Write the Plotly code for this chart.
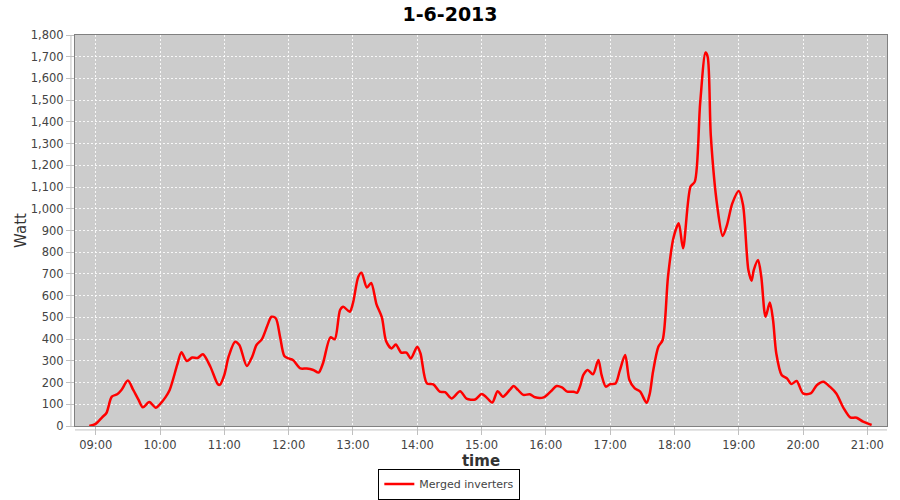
"""
1-6-2013 omvormer vermogen - JFreeChart-stijl lijngrafiek
"""

import plotly.graph_objects as go

DAY = '2013-06-01'

# tijdstippen (uu:mm) en vermogen (Watt)
times = [
    '08:54', '09:00', '09:06', '09:10', '09:15', '09:20', '09:24', '09:30', '09:35', '09:40',
    '09:44', '09:50', '09:56', '10:00', '10:05', '10:09', '10:16', '10:20', '10:25', '10:30',
    '10:35', '10:40', '10:47', '10:54', '10:56', '11:00', '11:04', '11:10', '11:14', '11:21',
    '11:26', '11:30', '11:35', '11:40', '11:44', '11:48', '11:52', '11:56', '12:00', '12:04',
    '12:11', '12:17', '12:23', '12:28', '12:32', '12:39', '12:43', '12:48', '12:51', '12:57',
    '13:00', '13:05', '13:08', '13:13', '13:17', '13:22', '13:27', '13:31', '13:36', '13:40',
    '13:45', '13:50', '13:54', '14:00', '14:03', '14:09', '14:15', '14:21', '14:26', '14:32',
    '14:40', '14:46', '14:54', '15:00', '15:04', '15:10', '15:15', '15:20', '15:27', '15:30',
    '15:34', '15:39', '15:45', '15:50', '15:58', '16:05', '16:10', '16:15', '16:20', '16:26',
    '16:29', '16:32', '16:35', '16:39', '16:44', '16:49', '16:52', '16:56', '17:00', '17:05',
    '17:09', '17:14', '17:18', '17:23', '17:28', '17:34', '17:37', '17:40', '17:45', '17:49',
    '17:54', '17:59', '18:04', '18:08', '18:15', '18:19', '18:24', '18:29', '18:31', '18:34',
    '18:40', '18:45', '18:49', '18:54', '19:00', '19:04', '19:09', '19:12', '19:14', '19:18',
    '19:21', '19:25', '19:29', '19:32', '19:35', '19:40', '19:45', '19:49', '19:54', '20:00',
    '20:07', '20:13', '20:19', '20:25', '20:31', '20:38', '20:44', '20:50', '20:56', '21:04',
]
watt = [
    0, 10, 40, 60, 135, 146, 166, 209, 166, 120,
    86, 110, 84, 101, 132, 166, 281, 339, 299, 315,
    313, 330, 273, 192, 190, 235, 319, 388, 373, 276,
    319, 373, 399, 460, 503, 496, 411, 322, 311, 304,
    265, 265, 258, 246, 288, 408, 399, 534, 549, 526,
    565, 687, 706, 638, 658, 560, 500, 390, 357, 375,
    338, 338, 311, 365, 335, 196, 192, 158, 156, 127,
    160, 126, 122, 147, 135, 108, 160, 135, 170, 184,
    166, 143, 146, 132, 132, 161, 184, 178, 158, 158,
    153, 184, 235, 258, 238, 304, 235, 181, 193, 196,
    255, 327, 212, 173, 158, 107, 150, 250, 365, 396,
    688, 864, 933, 818, 1102, 1125, 1486, 1719, 1700, 1332,
    1010, 875, 925, 1025, 1082, 1017, 718, 669, 718, 764,
    688, 503, 568, 488, 335, 235, 219, 193, 207, 150,
    150, 189, 204, 181, 150, 81, 40, 38, 20, 5,
]
hour_ticks = ['%02d:00' % h for h in range(9, 22)]

x = [f'{DAY} {t}' for t in times]

fig = go.Figure()

fig.add_trace(go.Scatter(
    x=x,
    y=watt,
    mode='lines',
    name='Merged inverters',
    line=dict(color='#ff0000', width=2.5, shape='spline', smoothing=0.8),
))

axis_font = dict(family='DejaVu Sans', size=11.5, color='#444444')

fig.update_layout(
    width=900,
    height=500,
    paper_bgcolor='white',
    plot_bgcolor='#cccccc',
    margin=dict(l=75, r=13, t=35, b=74, autoexpand=False),
    title=dict(
        text='<b>1-6-2013</b>',
        x=0.5, xanchor='center',
        y=0.972, yanchor='middle',
        font=dict(family='DejaVu Sans', size=19, color='black'),
        automargin=False,
    ),
    xaxis=dict(
        type='date',
        range=[f'{DAY} 08:40:40', f'{DAY} 21:18:20'],
        tickvals=[f'{DAY} {t}' for t in hour_ticks],
        ticktext=hour_ticks,
        tickfont=axis_font,
        ticks='outside', ticklen=8, tickcolor='#c0c0c0',
        showgrid=True, gridcolor='rgba(255,255,255,0.85)', griddash='2px,2px', gridwidth=1,
        showline=True, mirror=True, linecolor='#808080', linewidth=1,
        zeroline=False,
        automargin=False,
        title=dict(text='<b>time</b>', font=dict(family='DejaVu Sans', size=15, color='#333333'),
                   standoff=4),
    ),
    yaxis=dict(
        range=[0, 1800],
        dtick=100,
        tickformat=',d',
        tickfont=axis_font,
        ticks='outside', ticklen=8, tickcolor='#c0c0c0',
        showgrid=True, gridcolor='rgba(255,255,255,0.85)', griddash='2px,2px', gridwidth=1,
        showline=True, mirror=True, linecolor='#808080', linewidth=1,
        zeroline=False,
        automargin=False,
        title=dict(text='Watt', font=dict(family='DejaVu Sans', size=15, color='#333333'),
                   standoff=0),
    ),
    showlegend=True,
    legend=dict(
        orientation='h',
        x=0.461, xanchor='center',
        y=-0.188, yanchor='bottom',
        bgcolor='white',
        bordercolor='black', borderwidth=1,
        font=dict(family='DejaVu Sans', size=11, color='#444444'),
        itemwidth=30,
        tracegroupgap=0,
    ),
)

# losse as-lijnen net buiten het plotvlak (JFreeChart-stijl)
fig.add_shape(type='line', xref='paper', yref='paper', x0=-0.005, x1=-0.005, y0=0, y1=1,
              line=dict(color='#c0c0c0', width=1))
fig.add_shape(type='line', xref='paper', yref='paper', x0=0, x1=1, y0=-0.01, y1=-0.01,
              line=dict(color='#c0c0c0', width=1))

# standaard body-marge van de pagina weghalen zodat de figuur op (0,0) staat
fig.write_html('out.html', config={'displayModeBar': False},
               post_script="document.body.style.margin='0';")
